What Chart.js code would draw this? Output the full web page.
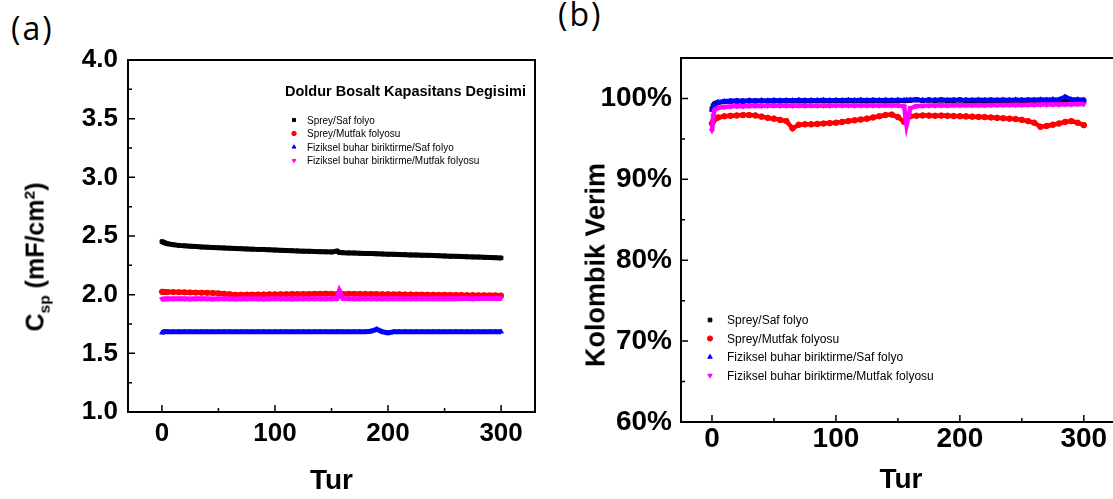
<!DOCTYPE html>
<html>
<head>
<meta charset="utf-8">
<script src="https://cdn.jsdelivr.net/npm/chart.js@4.4.0/dist/chart.umd.min.js"></script>
<style>
html, body { margin: 0; padding: 0; background: #fff; overflow: hidden; width: 1113px; height: 499px; position: relative; font-family: "Liberation Sans", Arial, sans-serif; }
#wrapA { position: absolute; left: 0; top: 0; width: 556px; height: 499px; }
#wrapB { position: absolute; left: 556px; top: 0; width: 580px; height: 499px; }
.panel { position: absolute; font-family: "Open Sans", sans-serif; font-size: 32px; line-height: 1; letter-spacing: 2px; }
.ytitle { position: absolute; font-weight: bold; white-space: nowrap; line-height: 1; transform: translate(-50%, -50%) rotate(-90deg); }
.ytitle sub, .ytitle sup { font-size: 62%; }
</style>
</head>
<body>
<div class="panel" style="left:11px;top:12px">(a)</div>
<div class="panel" style="left:558px;top:-2px">(b)</div>
<div id="wrapA"><canvas id="chartA"></canvas></div>
<div id="wrapB"><canvas id="chartB"></canvas></div>
<div class="ytitle" style="left:37px;top:257px;font-size:25px">C<sub>sp</sub> (mF/cm<sup>2</sup>)</div>
<div class="ytitle" style="left:596px;top:265px;font-size:27px">Kolombik Verim</div>
<script>
// cycle numbers (denser at the start and near the jump at ~157)
const cycles = [0, 1, 2, 3, 5, 10, 15, 20, 25, 30,
  35, 40, 45, 50, 55, 60, 65, 70, 75, 80,
  85, 90, 95, 100, 105, 110, 115, 120, 125, 130,
  135, 140, 145, 150, 155, 157, 160, 165, 170, 175,
  180, 185, 190, 195, 200, 205, 210, 215, 220, 225,
  230, 235, 240, 245, 250, 255, 260, 265, 270, 275,
  280, 285, 290, 295, 300];

const seriesNames = ["Sprey/Saf folyo", "Sprey/Mutfak folyosu",
  "Fiziksel buhar biriktirme/Saf folyo", "Fiziksel buhar biriktirme/Mutfak folyosu"];

// (a) Csp, mF/cm2
const capSprayFoil = [2.452, 2.448, 2.444, 2.440, 2.434, 2.426, 2.420, 2.416, 2.413, 2.410,
  2.407, 2.405, 2.402, 2.400, 2.398, 2.396, 2.394, 2.392, 2.390, 2.388,
  2.386, 2.384, 2.382, 2.380, 2.378, 2.376, 2.375, 2.373, 2.371, 2.370,
  2.368, 2.366, 2.365, 2.364, 2.372, 2.360, 2.358, 2.356, 2.355, 2.353,
  2.351, 2.350, 2.348, 2.347, 2.345, 2.344, 2.342, 2.341, 2.339, 2.338,
  2.336, 2.335, 2.333, 2.332, 2.330, 2.328, 2.327, 2.325, 2.323, 2.322,
  2.320, 2.318, 2.317, 2.315, 2.313];
const capSprayKitchen = [2.025, 2.024, 2.023, 2.023, 2.022, 2.022, 2.021, 2.020, 2.019, 2.018,
  2.017, 2.016, 2.014, 2.012, 2.008, 2.004, 1.999, 2.000, 2.001, 2.001,
  2.002, 2.002, 2.003, 2.003, 2.004, 2.004, 2.005, 2.005, 2.006, 2.006,
  2.007, 2.008, 2.009, 2.008, 2.006, 2.004, 2.006, 2.007, 2.007, 2.006,
  2.006, 2.005, 2.005, 2.004, 2.004, 2.003, 2.003, 2.002, 2.002, 2.001,
  2.001, 2.000, 2.000, 1.999, 1.999, 1.998, 1.998, 1.997, 1.996, 1.996,
  1.995, 1.995, 1.994, 1.994, 1.993];
const capPvdFoil = [1.676, 1.680, 1.682, 1.683, 1.684, 1.684, 1.683, 1.685, 1.684, 1.683,
  1.684, 1.685, 1.683, 1.684, 1.684, 1.685, 1.683, 1.684, 1.684, 1.683,
  1.685, 1.684, 1.684, 1.683, 1.684, 1.685, 1.684, 1.683, 1.684, 1.684,
  1.685, 1.683, 1.684, 1.684, 1.685, 1.684, 1.683, 1.684, 1.685, 1.684,
  1.684, 1.688, 1.705, 1.684, 1.674, 1.683, 1.684, 1.685, 1.684, 1.683,
  1.684, 1.684, 1.685, 1.683, 1.684, 1.684, 1.685, 1.684, 1.683, 1.684,
  1.684, 1.685, 1.684, 1.683, 1.684];
const capPvdKitchen = [1.962, 1.964, 1.965, 1.965, 1.966, 1.965, 1.966, 1.965, 1.964, 1.965,
  1.966, 1.965, 1.964, 1.965, 1.966, 1.965, 1.964, 1.965, 1.965, 1.966,
  1.965, 1.964, 1.965, 1.966, 1.965, 1.965, 1.964, 1.965, 1.966, 1.965,
  1.965, 1.966, 1.965, 1.965, 1.967, 2.030, 1.968, 1.966, 1.965, 1.966,
  1.965, 1.966, 1.965, 1.966, 1.965, 1.966, 1.967, 1.966, 1.965, 1.966,
  1.967, 1.966, 1.966, 1.967, 1.966, 1.967, 1.966, 1.967, 1.967, 1.966,
  1.967, 1.968, 1.967, 1.968, 1.968];

// (b) coulombic efficiency, %
const ceSprayFoil = [98.7, 99.1, 99.3, 99.4, 99.5, 99.6, 99.65, 99.67, 99.66, 99.68,
  99.67, 99.69, 99.68, 99.7, 99.68, 99.71, 99.69, 99.7, 99.68, 99.71,
  99.7, 99.72, 99.69, 99.71, 99.7, 99.73, 99.7, 99.71, 99.69, 99.72,
  99.71, 99.73, 99.7, 99.72, 99.71, 99.73, 99.78, 99.84, 99.74, 99.8,
  99.73, 99.82, 99.73, 99.75, 99.82, 99.73, 99.75, 99.72, 99.74, 99.73,
  99.75, 99.72, 99.74, 99.73, 99.75, 99.73, 99.74, 99.75, 99.73, 99.75,
  99.74, 99.75, 99.73, 99.75, 99.73];
const ceSprayKitchen = [96.9, 97.2, 97.4, 97.55, 97.65, 97.8, 97.85, 97.9, 97.95, 97.95,
  97.9, 97.75, 97.6, 97.5, 97.35, 97.2, 96.3, 96.75, 96.8, 96.8,
  96.85, 96.9, 96.95, 97.0, 97.1, 97.2, 97.3, 97.4, 97.5, 97.65,
  97.8, 97.95, 98.0, 97.7, 97.1, 97.75, 97.8, 97.85, 97.9, 97.88,
  97.85, 97.88, 97.85, 97.82, 97.8, 97.78, 97.75, 97.72, 97.7, 97.65,
  97.6, 97.55, 97.5, 97.45, 97.35, 97.2, 97.0, 96.5, 96.6, 96.75,
  96.9, 97.1, 97.2, 97.0, 96.7];
const cePvdFoil = [98.6, 99.0, 99.3, 99.4, 99.55, 99.65, 99.7, 99.72, 99.7, 99.75,
  99.72, 99.76, 99.73, 99.78, 99.74, 99.77, 99.75, 99.8, 99.76, 99.78,
  99.77, 99.8, 99.76, 99.79, 99.77, 99.8, 99.78, 99.82, 99.78, 99.8,
  99.78, 99.81, 99.79, 99.82, 99.78, 99.8, 99.8, 99.83, 99.79, 99.82,
  99.8, 99.84, 99.8, 99.83, 99.8, 99.82, 99.8, 99.84, 99.81, 99.83,
  99.8, 99.84, 99.82, 99.85, 99.82, 99.84, 99.83, 99.86, 99.84, 99.88,
  99.85, 100.2, 99.86, 99.87, 99.84];
const cePvdKitchen = [96.0, 97.8, 98.5, 98.7, 98.85, 98.95, 99.0, 99.05, 99.05, 99.08,
  99.1, 99.08, 99.1, 99.12, 99.1, 99.11, 99.1, 99.12, 99.1, 99.13,
  99.11, 99.12, 99.1, 99.13, 99.12, 99.14, 99.12, 99.13, 99.12, 99.14,
  99.13, 99.15, 99.13, 99.14, 99.0, 96.7, 98.8, 99.05, 99.1, 99.12,
  99.13, 99.15, 99.14, 99.16, 99.15, 99.17, 99.16, 99.18, 99.17, 99.2,
  99.18, 99.2, 99.19, 99.22, 99.2, 99.23, 99.22, 99.25, 99.24, 99.26,
  99.25, 99.28, 99.27, 99.3, 99.3];

const xTicks = [0, 100, 200, 300];
const xMinor = [50, 150, 250];
const capTicks = [1.0, 1.5, 2.0, 2.5, 3.0, 3.5, 4.0];
const capMinor = [1.25, 1.75, 2.25, 2.75, 3.25, 3.75];
const ceTicks = [60, 70, 80, 90, 100];
const ceMinor = [65, 75, 85, 95];

const colors = ["#000000", "#ff0000", "#0000ff", "#ff00ff"];
const styles = ["rect", "circle", "triangle", "triangle"];
const rotations = [0, 0, 0, 180];

const FONT = '"Liberation Sans", Arial, sans-serif';

const makeSets = (arrays, radius, width) => arrays.map((vals, k) => ({
  label: seriesNames[k],
  data: cycles.map((c, i) => ({ x: c, y: vals[i] })),
  borderColor: colors[k],
  backgroundColor: colors[k],
  pointStyle: styles[k],
  pointRotation: rotations[k],
  pointRadius: radius,
  pointBorderWidth: 1,
  borderWidth: width,
  showLine: true,
  tension: 0,
  order: 4 - k
}));

// frame box plus inward major/minor ticks
const framePlugin = {
  id: "frame",
  afterDatasetsDraw(chart, args, o) {
    const { ctx, chartArea: a, scales: { x, y } } = chart;
    ctx.save();
    ctx.strokeStyle = "#000";
    ctx.lineWidth = 2;
    ctx.strokeRect(a.left, a.top, a.right - a.left, a.bottom - a.top);
    ctx.lineWidth = 1.5;
    ctx.beginPath();
    const tx = (vals, len) => vals.forEach(v => {
      const p = x.getPixelForValue(v);
      ctx.moveTo(p, a.bottom); ctx.lineTo(p, a.bottom - len);
    });
    const ty = (vals, len) => vals.forEach(v => {
      const p = y.getPixelForValue(v);
      ctx.moveTo(a.left, p); ctx.lineTo(a.left + len, p);
    });
    tx(o.xMajor, 7); tx(o.xMinor, 4);
    ty(o.yMajor, 7); ty(o.yMinor, 4);
    ctx.stroke();
    ctx.restore();
  }
};

// legend drawn inside the plot area
const boxLegend = {
  id: "boxLegend",
  afterDraw(chart, args, o) {
    const ctx = chart.ctx;
    ctx.save();
    ctx.textBaseline = "alphabetic";
    ctx.fillStyle = "#000";
    if (o.title) {
      ctx.font = o.titleFont;
      ctx.fillText(o.title, o.titleX, o.titleY);
    }
    ctx.font = o.font;
    ctx.textBaseline = "middle";
    seriesNames.forEach((name, k) => {
      const yy = o.y + k * o.dy;
      ctx.fillStyle = colors[k];
      ctx.strokeStyle = colors[k];
      Chart.helpers.drawPoint(ctx, { pointStyle: styles[k], rotation: rotations[k], radius: o.r, borderWidth: 1 }, o.mx, yy);
      ctx.fillStyle = "#000";
      ctx.fillText(name, o.tx, yy + 1);
    });
    ctx.restore();
  }
};

const axisX = (h, pad, fontSize, titlePad, min, max) => ({
  type: "linear", min, max,
  grid: { display: false, drawTicks: false },
  border: { display: false },
  afterBuildTicks: s => { s.ticks = xTicks.map(v => ({ value: v })); },
  afterFit: s => { s.height = h; },
  ticks: { autoSkip: false, maxRotation: 0, padding: pad, color: "#000", font: { family: FONT, size: fontSize, weight: "bold" } },
  title: { display: true, text: "Tur", color: "#000", padding: { top: 0, bottom: titlePad }, font: { family: FONT, size: 28, weight: "bold" } }
});

const axisY = (w, pad, fontSize, min, max, tickVals, fmt) => ({
  type: "linear", min, max,
  grid: { display: false, drawTicks: false },
  border: { display: false },
  afterBuildTicks: s => { s.ticks = tickVals.map(v => ({ value: v })); },
  afterFit: s => { s.width = w; },
  ticks: { autoSkip: false, padding: pad, color: "#000", callback: fmt, font: { family: FONT, size: fontSize, weight: "bold" } }
});

new Chart(document.getElementById("chartA"), {
  type: "scatter",
  data: { datasets: makeSets([capSprayFoil, capSprayKitchen, capPvdFoil, capPvdKitchen], 2.6, 5) },
  options: {
    responsive: true, maintainAspectRatio: false, animation: false,
    layout: { padding: { top: 60, right: 21, bottom: 0, left: 0 } },
    scales: {
      x: axisX(87, 6, 26, 1, -30, 330),
      y: axisY(128, 10, 26, 1.0, 4.0, capTicks, v => v.toFixed(1))
    },
    plugins: {
      legend: { display: false },
      tooltip: { enabled: false },
      frame: { xMajor: xTicks, xMinor: xMinor, yMajor: capTicks, yMinor: capMinor },
      boxLegend: {
        title: "Doldur Bosalt Kapasitans Degisimi", titleFont: "bold 14.5px " + FONT, titleX: 285, titleY: 96,
        font: "10px " + FONT, mx: 294, tx: 307, y: 120, dy: 13.5, r: 2.2
      }
    }
  },
  plugins: [framePlugin, boxLegend]
});

new Chart(document.getElementById("chartB"), {
  type: "scatter",
  data: { datasets: makeSets([ceSprayFoil, ceSprayKitchen, cePvdFoil, cePvdKitchen], 2.8, 4.5) },
  options: {
    responsive: true, maintainAspectRatio: false, animation: false,
    layout: { padding: { top: 58, right: 15, bottom: 0, left: 0 } },
    scales: {
      x: axisX(77, 0, 28, 2, -25, 330),
      y: axisY(125, 9, 28, 60, 105, ceTicks, v => v + "%")
    },
    plugins: {
      legend: { display: false },
      tooltip: { enabled: false },
      frame: { xMajor: xTicks, xMinor: xMinor, yMajor: ceTicks, yMinor: ceMinor },
      boxLegend: {
        title: "", font: "12px " + FONT, mx: 154, tx: 171, y: 320, dy: 18.5, r: 2.6
      }
    }
  },
  plugins: [framePlugin, boxLegend]
});
</script>
</body>
</html>
